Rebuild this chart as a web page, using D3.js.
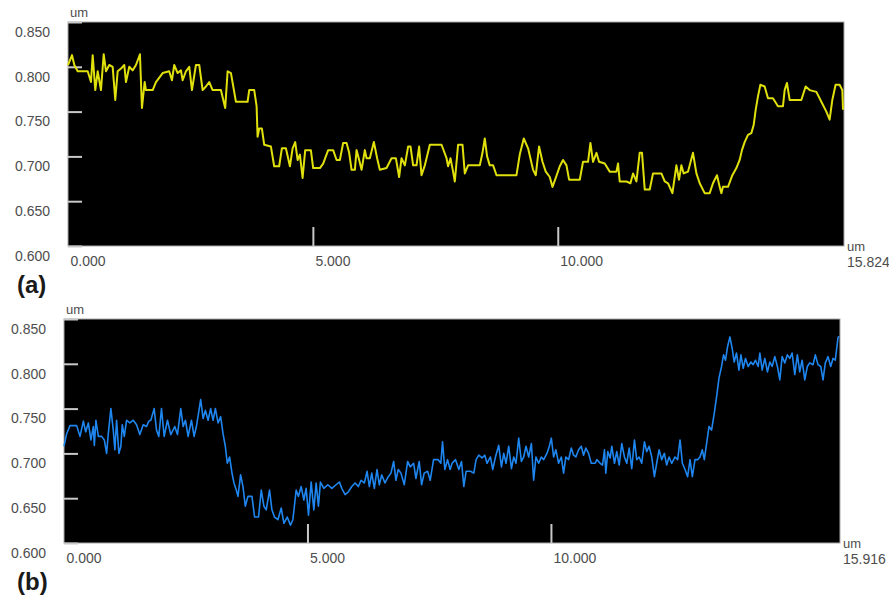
<!DOCTYPE html>
<html>
<head>
<meta charset="utf-8">
<script src="https://cdn.jsdelivr.net/npm/d3@7"></script>
<style>
  body { margin: 0; background: #fff; }
  svg { display: block; font-family: "Liberation Sans", Arial, sans-serif; }
</style>
</head>
<body>
<div id="chart"></div>
<script>
// Height profiles: [position (um), height (um)]
var profileA = [
  [0,0.802],[0.082,0.813],[0.129,0.802],[0.198,0.795],[0.402,0.795],[0.469,0.783],[0.504,0.813],
  [0.557,0.774],[0.606,0.795],[0.673,0.774],[0.729,0.814],[0.776,0.795],[0.843,0.802],[0.912,0.800],
  [0.965,0.763],[1.014,0.795],[1.082,0.798],[1.149,0.802],[1.184,0.783],[1.251,0.800],[1.320,0.796],
  [1.388,0.802],[1.469,0.814],[1.510,0.754],[1.565,0.783],[1.592,0.774],[1.729,0.774],[1.796,0.783],
  [1.933,0.793],[2.067,0.795],[2.122,0.785],[2.169,0.802],[2.239,0.793],[2.306,0.796],[2.341,0.785],
  [2.408,0.795],[2.476,0.800],[2.531,0.774],[2.612,0.802],[2.680,0.802],[2.749,0.774],[2.816,0.778],
  [2.884,0.783],[2.953,0.774],[3.122,0.774],[3.210,0.754],[3.259,0.795],[3.327,0.793],[3.429,0.761],
  [3.667,0.761],[3.700,0.774],[3.802,0.774],[3.851,0.756],[3.871,0.722],[3.904,0.731],[3.959,0.731],
  [4.006,0.713],[4.143,0.711],[4.210,0.689],[4.312,0.689],[4.367,0.709],[4.449,0.709],[4.531,0.689],
  [4.586,0.709],[4.639,0.716],[4.688,0.696],[4.735,0.702],[4.790,0.676],[4.843,0.707],[4.959,0.707],
  [5.006,0.687],[5.143,0.687],[5.210,0.692],[5.312,0.707],[5.414,0.707],[5.484,0.696],[5.551,0.696],
  [5.618,0.715],[5.688,0.715],[5.741,0.704],[5.790,0.685],[5.857,0.685],[5.892,0.707],[5.945,0.696],
  [5.994,0.685],[6.061,0.707],[6.096,0.698],[6.163,0.698],[6.245,0.716],[6.312,0.698],[6.367,0.685],
  [6.504,0.687],[6.606,0.698],[6.694,0.698],[6.761,0.677],[6.810,0.698],[6.878,0.690],[6.945,0.711],
  [6.994,0.711],[7.047,0.690],[7.116,0.690],[7.169,0.711],[7.218,0.679],[7.286,0.690],[7.388,0.713],
  [7.627,0.713],[7.729,0.698],[7.761,0.689],[7.810,0.698],[7.863,0.683],[7.898,0.672],[7.965,0.713],
  [8.055,0.713],[8.102,0.681],[8.169,0.690],[8.408,0.690],[8.463,0.704],[8.510,0.720],[8.557,0.700],
  [8.612,0.690],[8.680,0.690],[8.749,0.679],[9.157,0.679],[9.224,0.702],[9.306,0.720],[9.394,0.709],
  [9.496,0.685],[9.551,0.679],[9.618,0.711],[9.688,0.694],[9.755,0.683],[9.837,0.677],[9.892,0.666],
  [9.959,0.676],[10.041,0.689],[10.108,0.696],[10.178,0.690],[10.231,0.674],[10.449,0.674],[10.516,0.694],
  [10.618,0.694],[10.667,0.715],[10.720,0.694],[10.790,0.704],[10.843,0.694],[10.959,0.692],[11.061,0.683],
  [11.198,0.683],[11.231,0.692],[11.265,0.672],[11.402,0.672],[11.484,0.670],[11.537,0.681],[11.606,0.672],
  [11.673,0.704],[11.720,0.704],[11.776,0.663],[11.878,0.663],[11.945,0.681],[12.116,0.681],[12.184,0.672],
  [12.251,0.670],[12.341,0.659],[12.422,0.690],[12.476,0.674],[12.524,0.690],[12.571,0.681],[12.659,0.683],
  [12.761,0.704],[12.831,0.681],[12.898,0.670],[13.000,0.659],[13.102,0.659],[13.169,0.670],[13.251,0.679],
  [13.306,0.666],[13.341,0.659],[13.373,0.666],[13.476,0.666],[13.565,0.679],[13.647,0.687],[13.714,0.696],
  [13.761,0.707],[13.816,0.716],[13.884,0.724],[13.953,0.726],[14.000,0.735],[14.041,0.752],[14.088,0.767],
  [14.137,0.780],[14.224,0.778],[14.292,0.765],[14.394,0.765],[14.496,0.756],[14.598,0.756],[14.633,0.774],
  [14.680,0.782],[14.735,0.763],[14.973,0.763],[15.061,0.778],[15.143,0.774],[15.280,0.772],[15.382,0.761],
  [15.484,0.750],[15.551,0.741],[15.606,0.763],[15.673,0.780],[15.755,0.780],[15.810,0.774],[15.824,0.752]
];

var profileB = [
  [0,0.708],[0.055,0.722],[0.123,0.731],[0.260,0.731],[0.328,0.719],[0.398,0.736],[0.445,0.724],
  [0.500,0.734],[0.553,0.715],[0.602,0.730],[0.623,0.709],[0.656,0.737],[0.705,0.719],[0.773,0.719],
  [0.828,0.715],[0.875,0.700],[0.910,0.722],[0.963,0.750],[1.012,0.726],[1.045,0.704],[1.080,0.737],
  [1.127,0.700],[1.168,0.708],[1.197,0.732],[1.238,0.719],[1.285,0.737],[1.353,0.734],[1.422,0.737],
  [1.490,0.732],[1.557,0.721],[1.627,0.732],[1.695,0.730],[1.742,0.736],[1.783,0.737],[1.852,0.750],
  [1.900,0.726],[1.947,0.719],[2.002,0.750],[2.057,0.719],[2.125,0.737],[2.193,0.721],[2.275,0.730],
  [2.330,0.721],[2.398,0.750],[2.447,0.730],[2.494,0.737],[2.549,0.719],[2.617,0.737],[2.672,0.719],
  [2.719,0.730],[2.807,0.760],[2.857,0.739],[2.904,0.748],[2.959,0.737],[3.012,0.750],[3.061,0.737],
  [3.109,0.750],[3.164,0.734],[3.217,0.741],[3.266,0.722],[3.313,0.708],[3.354,0.689],[3.401,0.696],
  [3.450,0.678],[3.491,0.667],[3.539,0.659],[3.573,0.652],[3.627,0.676],[3.676,0.663],[3.723,0.641],
  [3.778,0.652],[3.860,0.652],[3.914,0.629],[3.995,0.629],[4.051,0.659],[4.106,0.641],[4.153,0.637],
  [4.221,0.659],[4.270,0.637],[4.323,0.629],[4.393,0.626],[4.461,0.639],[4.516,0.622],[4.584,0.629],
  [4.651,0.620],[4.700,0.626],[4.768,0.659],[4.815,0.652],[4.871,0.663],[4.926,0.648],[4.973,0.661],
  [5.021,0.631],[5.076,0.668],[5.131,0.637],[5.178,0.667],[5.225,0.641],[5.266,0.668],[5.336,0.661],
  [5.418,0.665],[5.500,0.661],[5.588,0.665],[5.656,0.668],[5.705,0.661],[5.773,0.654],[5.840,0.657],
  [5.910,0.663],[5.978,0.667],[6.045,0.663],[6.101,0.670],[6.168,0.667],[6.224,0.680],[6.271,0.663],
  [6.320,0.678],[6.373,0.661],[6.428,0.682],[6.476,0.665],[6.525,0.676],[6.592,0.667],[6.660,0.674],
  [6.715,0.678],[6.770,0.691],[6.817,0.670],[6.864,0.682],[6.920,0.678],[6.988,0.665],[7.057,0.691],
  [7.111,0.685],[7.180,0.689],[7.227,0.672],[7.295,0.691],[7.344,0.665],[7.397,0.678],[7.467,0.680],
  [7.520,0.670],[7.590,0.693],[7.684,0.693],[7.739,0.689],[7.774,0.713],[7.821,0.682],[7.877,0.693],
  [7.930,0.682],[7.971,0.689],[8.041,0.693],[8.109,0.682],[8.164,0.691],[8.211,0.663],[8.258,0.680],
  [8.348,0.680],[8.416,0.678],[8.463,0.693],[8.518,0.698],[8.586,0.695],[8.641,0.698],[8.688,0.689],
  [8.758,0.696],[8.805,0.682],[8.861,0.696],[8.928,0.709],[8.984,0.685],[9.031,0.700],[9.078,0.689],
  [9.133,0.708],[9.189,0.683],[9.236,0.696],[9.283,0.689],[9.338,0.717],[9.393,0.691],[9.441,0.696],
  [9.488,0.708],[9.543,0.696],[9.598,0.711],[9.645,0.670],[9.692,0.696],[9.748,0.689],[9.803,0.696],
  [9.850,0.693],[9.918,0.700],[9.967,0.708],[10.008,0.717],[10.055,0.696],[10.102,0.704],[10.158,0.689],
  [10.213,0.696],[10.260,0.678],[10.307,0.696],[10.363,0.693],[10.418,0.706],[10.465,0.698],[10.512,0.696],
  [10.568,0.704],[10.623,0.708],[10.670,0.698],[10.717,0.706],[10.773,0.700],[10.828,0.689],[10.910,0.689],
  [10.943,0.693],[11.012,0.689],[11.059,0.687],[11.100,0.704],[11.127,0.678],[11.168,0.702],[11.217,0.695],
  [11.250,0.708],[11.305,0.689],[11.352,0.702],[11.402,0.687],[11.455,0.711],[11.510,0.696],[11.557,0.689],
  [11.607,0.706],[11.660,0.683],[11.715,0.715],[11.762,0.693],[11.811,0.696],[11.865,0.689],[11.920,0.713],
  [11.967,0.702],[12.016,0.708],[12.070,0.696],[12.125,0.674],[12.172,0.689],[12.221,0.704],[12.275,0.693],
  [12.330,0.700],[12.377,0.687],[12.426,0.696],[12.480,0.689],[12.549,0.696],[12.603,0.693],[12.652,0.715],
  [12.699,0.689],[12.754,0.682],[12.807,0.674],[12.857,0.693],[12.904,0.674],[12.959,0.693],[13.012,0.693],
  [13.061,0.696],[13.109,0.704],[13.150,0.693],[13.197,0.711],[13.246,0.730],[13.299,0.726],[13.355,0.745],
  [13.402,0.763],[13.451,0.784],[13.504,0.797],[13.545,0.810],[13.586,0.804],[13.627,0.819],[13.676,0.830],
  [13.723,0.817],[13.764,0.802],[13.811,0.812],[13.861,0.793],[13.902,0.810],[13.949,0.795],[13.996,0.806],
  [14.051,0.797],[14.107,0.802],[14.154,0.799],[14.201,0.804],[14.256,0.797],[14.291,0.812],[14.338,0.793],
  [14.393,0.806],[14.447,0.791],[14.496,0.802],[14.543,0.797],[14.598,0.808],[14.651,0.797],[14.701,0.782],
  [14.748,0.808],[14.803,0.801],[14.856,0.810],[14.905,0.806],[14.953,0.812],[15.008,0.788],[15.061,0.810],
  [15.110,0.791],[15.158,0.804],[15.213,0.782],[15.266,0.797],[15.315,0.801],[15.383,0.799],[15.430,0.810],
  [15.486,0.799],[15.541,0.797],[15.588,0.782],[15.635,0.801],[15.691,0.808],[15.746,0.797],[15.793,0.806],
  [15.840,0.804],[15.895,0.829],[15.916,0.831]
];

var yTicks = [0.600, 0.650, 0.700, 0.750, 0.800, 0.850];
var xTicks = [0, 5, 10];
var panelLabels = ["(a)", "(b)"];
var xEnds = [15.824, 15.916];
var unit = "um";

var width = 889, height = 600;

// panel boxes in page pixels
var panels = [
  { data: profileA, xMax: xEnds[0], label: panelLabels[0], color: "#e0e00c", lw: 2,
    left: 68, right: 844, top: 22, bottom: 246, labelY: 293 },
  { data: profileB, xMax: xEnds[1], label: panelLabels[1], color: "#1f86f0", lw: 1.6,
    left: 64, right: 840, top: 319, bottom: 543, labelY: 590 }
];

var svg = d3.select("#chart")
  .append("svg")
  .attr("width", width)
  .attr("height", height)
  .style("background", "#fff");

panels.forEach(function(p) {
  var x = d3.scaleLinear().domain([0, p.xMax]).range([p.left, p.right - 1]);
  var y = d3.scaleLinear().domain([0.6, 0.85]).range([p.bottom, p.top]);

  // plot area
  svg.append("rect")
    .attr("x", p.left)
    .attr("y", p.top)
    .attr("width", p.right - p.left)
    .attr("height", p.bottom - p.top)
    .attr("fill", "#000")
    .attr("stroke", "#a8a8a8")
    .attr("stroke-width", 1);

  // left axis: ticks pointing into the plot, labels sitting just under each tick
  var yAxis = svg.append("g")
    .attr("transform", `translate(${p.left},0)`)
    .call(d3.axisLeft(y).tickValues(yTicks).tickFormat(d3.format(".3f"))
      .tickSizeInner(-14).tickSizeOuter(0).tickPadding(18));
  yAxis.select(".domain").remove();
  yAxis.selectAll(".tick line").attr("stroke", "#c8c8c8").attr("stroke-width", 2);
  yAxis.selectAll(".tick text")
    .attr("dy", "1.02em")
    .attr("fill", "#4d4d4d")
    .style("font-size", "14px");

  // bottom axis: ticks pointing up, labels start at the tick
  var xAxis = svg.append("g")
    .attr("transform", `translate(0,${p.bottom})`)
    .call(d3.axisBottom(x).tickValues(xTicks).tickFormat(d3.format(".3f"))
      .tickSizeInner(-19).tickSizeOuter(0).tickPadding(10));
  xAxis.select(".domain").remove();
  xAxis.selectAll(".tick line")
    .attr("stroke", "#c8c8c8")
    .attr("stroke-width", 2)
    .attr("display", d => d === 0 ? "none" : null);
  xAxis.selectAll(".tick text")
    .attr("text-anchor", "start")
    .attr("x", 2)
    .attr("fill", "#4d4d4d")
    .style("font-size", "14px");

  // profile trace
  var line = d3.line()
    .x(d => x(d[0]))
    .y(d => y(d[1]));

  svg.append("path")
    .datum(p.data)
    .attr("d", line)
    .attr("fill", "none")
    .attr("stroke", p.color)
    .attr("stroke-width", p.lw)
    .attr("stroke-linejoin", "round");

  // unit labels
  svg.append("text")
    .attr("x", p.left + 2)
    .attr("y", p.top - 5)
    .attr("fill", "#4d4d4d")
    .style("font-size", "13px")
    .text(unit);

  svg.append("text")
    .attr("x", p.right + 3)
    .attr("y", p.bottom + 5)
    .attr("fill", "#4d4d4d")
    .style("font-size", "13px")
    .text(unit);

  svg.append("text")
    .attr("x", p.right + 3)
    .attr("y", p.bottom + 21)
    .attr("fill", "#4d4d4d")
    .style("font-size", "14px")
    .text(d3.format(".3f")(p.xMax));

  // panel letter
  svg.append("text")
    .attr("x", 17)
    .attr("y", p.labelY)
    .attr("fill", "#1a1a1a")
    .style("font-size", "24px")
    .style("font-weight", "bold")
    .text(p.label);
});
</script>
</body>
</html>
